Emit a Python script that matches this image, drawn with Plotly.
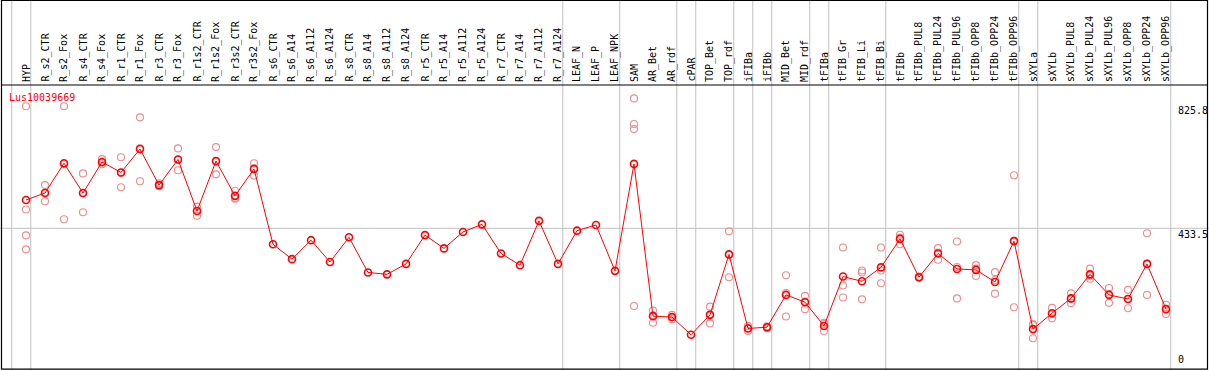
import plotly.graph_objects as go

title = "Lus10039669"
categories = ["HYP", "R_s2_CTR", "R_s2_Fox", "R_s4_CTR", "R_s4_Fox", "R_r1_CTR", "R_r1_Fox",
              "R_r3_CTR", "R_r3_Fox", "R_r1s2_CTR", "R_r1s2_Fox", "R_r3s2_CTR", "R_r3s2_Fox",
              "R_s6_CTR", "R_s6_A14", "R_s6_A112", "R_s6_A124", "R_s8_CTR", "R_s8_A14",
              "R_s8_A112", "R_s8_A124", "R_r5_CTR", "R_r5_A14", "R_r5_A112", "R_r5_A124",
              "R_r7_CTR", "R_r7_A14", "R_r7_A112", "R_r7_A124", "LEAF_N", "LEAF_P", "LEAF_NPK",
              "SAM", "AR_Bet", "AR_rdf", "cPAR", "TOP_Bet", "TOP_rdf", "iFIBa", "iFIBb",
              "MID_Bet", "MID_rdf", "tFIBa", "tFIB_Gr", "tFIB_Li", "tFIB_Bi", "tFIBb",
              "tFIBb_PUL8", "tFIBb_PUL24", "tFIBb_PUL96", "tFIBb_OPP8", "tFIBb_OPP24",
              "tFIBb_OPP96", "sXYLa", "sXYLb", "sXYLb_PUL8", "sXYLb_PUL24", "sXYLb_PUL96",
              "sXYLb_OPP8", "sXYLb_OPP24", "sXYLb_OPP96"]

mean_values = [523, 545, 639, 545, 643, 610, 684, 570, 651, 488, 646, 536, 621,
               383, 336, 396, 327, 405, 294, 288, 321, 412, 370, 422, 446, 354, 317, 457, 321,
               426, 444, 299, 637, 156, 153, 97, 160, 351, 117, 121, 223, 200, 125, 281, 266,
               310, 400, 279, 354, 305, 302, 264, 393, 115, 165, 212, 288, 223, 210, 321, 178]

N = None
rep1 = [819, 570, 819, 607, 652, 658, 784, 576, 686, 502, 690, 552, 639,
        N, N, N, N, N, N, N, N, N, N, N, N, N, N, N, N, N, N, N,
        844, 174, 160, N, 186, 424, 125, 124, 285, 220, 135, 373, 300, 373, 413,
        281, 371, 392, 317, 295, 601, 131, 182, 228, 306, 245, 239, 418, 192]
rep2 = [493, 519, 462, 484, 636, 563, 582, 567, 617, 473, 604, 527, 600,
        N, N, N, N, N, N, N, N, N, N, N, N, N, N, N, N, N, N, N,
        763, 135, 146, N, 133, 279, 109, 118, 155, 178, 109, 253, 294, 300, 383,
        277, 334, 212, 283, 227, 184, 86, 149, 197, 274, 198, 181, 223, 163]
rep3 = [411, 546, 636, 544, 641, 609, 686, 567, 650, 489, 644, 529, 624,
        N, N, N, N, N, N, N, N, N, N, N, N, N, N, N, N, N, N, N,
        747, 159, 153, N, 161, 350, 118, 121, 229, 202, 131, 215, 209, 260, 404,
        279, 357, 311, 306, 270, 394, 128, 164, 211, 284, 226, 210, 322, 179]
rep4 = [367] + [N] * 31 + [188] + [N] * 28

group_starts = [0, 1, 29, 32, 35, 36, 38, 39, 40, 42, 43, 46, 53, 54, 61]
y_tick_values = [825.8, 433.5, 0]
y_tick_labels = ["825.8", "433.5", "0"]

W, H = 1209, 370
px0, step = 26.0, 19.0           # pixel of first category, pixels per category
xr = [(0 - px0) / step, (W - px0) / step]
top_px, bot_px = 85, 370
zero_px, scale = 365.5, (365.5 - 228.3) / 433.5
yr = [(zero_px - bot_px) / scale, (zero_px - top_px) / scale]
ydom_top = (H - top_px) / H

FONT = "DejaVu Sans Mono"
xs = list(range(len(categories)))

fig = go.Figure()

rx, ry = [], []
for rep in (rep1, rep2, rep3, rep4):
    for i, v in enumerate(rep):
        if v is not None:
            rx.append(i)
            ry.append(v)
fig.add_trace(go.Scatter(x=rx, y=ry, mode="markers",
                         marker=dict(symbol="circle-open", size=7, color="rgb(238,140,140)",
                                     line=dict(width=1.1, color="rgb(238,140,140)")),
                         showlegend=False, hoverinfo="skip"))
fig.add_trace(go.Scatter(x=xs, y=mean_values, mode="lines+markers",
                         line=dict(color="red", width=1),
                         marker=dict(symbol="circle-open", size=7, color="red",
                                     line=dict(width=1.6, color="red")),
                         showlegend=False))

shapes = []
shapes.append(dict(type="line", xref="paper", yref="y", x0=0, x1=1, y0=y_tick_values[1],
                   y1=y_tick_values[1], line=dict(color="#c0c0c0", width=1), layer="below"))
for s in group_starts:
    xv = s - 0.75
    shapes.append(dict(type="line", xref="x", yref="paper", x0=xv, x1=xv, y0=0, y1=1,
                       line=dict(color="#c0c0c0", width=1), layer="below"))
shapes.append(dict(type="rect", xref="paper", yref="paper", x0=1.5 / W, x1=1207.5 / W,
                   y0=0.8 / H, y1=(H - 0.5) / H, line=dict(color="black", width=1.2)))
shapes.append(dict(type="line", xref="paper", yref="paper", x0=1.5 / W, x1=1207.5 / W,
                   y0=ydom_top, y1=ydom_top, line=dict(color="black", width=1.2)))

annotations = []
for i, c in enumerate(categories):
    annotations.append(dict(x=i, xref="x", y=(H - 83) / H, yref="paper", text=c,
                            textangle=-90, showarrow=False, xanchor="center", yanchor="bottom",
                            font=dict(family=FONT, size=10, color="black"), borderpad=0))
for v, t in zip(y_tick_values, y_tick_labels):
    annotations.append(dict(x=1177 / W, xref="paper", y=v, yref="y", text=t, showarrow=False,
                            xanchor="left", yanchor="bottom" if v == 0 else "top",
                            font=dict(family=FONT, size=10, color="black"), borderpad=0))
annotations.append(dict(x=8 / W, xref="paper", y=(H - 91) / H, yref="paper", text=title,
                        showarrow=False, xanchor="left", yanchor="top",
                        font=dict(family=FONT, size=10, color="red"), borderpad=0))

fig.update_layout(
    width=W, height=H, margin=dict(l=0, r=0, t=0, b=0),
    paper_bgcolor="white", plot_bgcolor="white",
    xaxis=dict(range=xr, domain=[0, 1], showgrid=False, zeroline=False, showticklabels=False,
               fixedrange=True),
    yaxis=dict(range=yr, domain=[0, ydom_top], showgrid=False, zeroline=False,
               showticklabels=False, fixedrange=True),
    shapes=shapes, annotations=annotations, showlegend=False,
)

fig.write_html("out.html", config={"displayModeBar": False},
               post_script="document.body.style.margin='0';document.body.style.overflow='hidden';")
